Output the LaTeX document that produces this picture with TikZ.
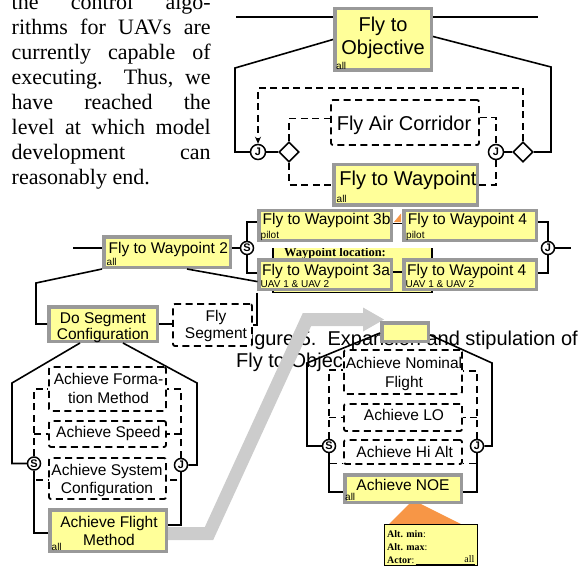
\documentclass[tikz,border=0pt]{standalone}
\usepackage{fontspec}
\setmainfont{Liberation Serif}
\setsansfont{Liberation Sans}
\usetikzlibrary{calc,arrows.meta,shapes.geometric}
\definecolor{yel}{HTML}{FFFF99}
\definecolor{bgray}{HTML}{999999}
\definecolor{agray}{HTML}{CCCCCC}
\definecolor{orng}{HTML}{F79646}
\newcommand\myfs[1]{\fontsize{#1}{#1}\selectfont}
\begin{document}
\begin{tikzpicture}[x=1pt,y=-1pt,
  ybox/.style={draw=bgray, fill=yel, line width=3.5pt, inner sep=0pt, rectangle},
  dbox/.style={draw=black, fill=white, line width=1.8pt, dash pattern=on 7pt off 4.5pt, rounded corners=2pt, inner sep=0pt, rectangle},
  conn/.style={draw=black, line width=1.6pt},
  dconn/.style={draw=black, line width=1.8pt, dash pattern=on 7pt off 4.5pt},
  circ/.style={circle, draw=black, fill=white, line width=1.5pt, inner sep=0pt, minimum size=13pt, font=\sffamily\bfseries\myfs{11}},
  dia/.style={diamond, draw=black, fill=white, line width=1.6pt, inner sep=0pt, minimum size=20pt},
  t20/.style={font=\sffamily\myfs{20}, inner sep=0pt, anchor=base},
  t15/.style={font=\sffamily\myfs{15.5}, inner sep=0pt, anchor=base},
  lbl/.style={font=\sffamily\myfs{10}, inner sep=0pt, anchor=base west},
  ptxt/.style={font=\myfs{22}, inner sep=0pt, anchor=base west}]
\useasboundingbox (0,0) rectangle (580,569);
\clip (0,0) rectangle (580,569);

% ---- left column text
\node[ptxt] (p1) at (11.5,9.3) {\makebox[199pt][s]{the control algo-}};
\node[ptxt] (p2) at (11.5,34.3) {\makebox[199pt][s]{rithms for UAVs are}};
\node[ptxt] (p3) at (11.5,59.5) {\makebox[199pt][s]{currently capable of}};
\node[ptxt] (p4) at (11.5,84.6) {\makebox[199pt][s]{executing.\ \ Thus, we}};
\node[ptxt] (p5) at (11.5,109.7) {\makebox[199pt][s]{have reached the}};
\node[ptxt] (p6) at (11.5,134.8) {\makebox[199pt][s]{level at which model}};
\node[ptxt] (p7) at (11.5,160) {\makebox[199pt][s]{development can}};
\node[ptxt] (p8) at (11.5,185) {reasonably end.};

% ---- caption (underneath)
\node[font=\sffamily\myfs{20}, inner sep=0pt, anchor=base east] (cap1) at (578,345) {Figure 5.\ \ Expansion and stipulation of};
\node[font=\sffamily\myfs{20}, inner sep=0pt, anchor=base west] (cap2) at (236,367.5) {Fly to Objective};

% ---- top diagram
\coordinate (tL) at (236,17);
\coordinate (tR) at (538,17);
\node[ybox, minimum width=96.5pt, minimum height=61.5pt] (fto) at (383,39.5) {};
\node[t20] (ftoA) at (383,32) {Fly to};
\node[t20] (ftoB) at (383,55) {Objective};
\node[lbl] (l1) at (336,69.5) {all};
\node[dbox, minimum width=148pt, minimum height=45pt] (fac) at (405,122.5) {};
\node[t20] (facT) at (404,131) {Fly Air Corridor};
\node[ybox, minimum width=143.5pt, minimum height=40.5pt] (ftw) at (405.5,185) {};
\node[t20] (ftwT) at (408,186) {Fly to Waypoint};
\node[lbl] (l2) at (336.5,203) {all};
\node[circ, minimum size=15pt] (jl) at (258,152) {J};
\node[dia] (dl) at (289,152) {};
\node[circ, minimum size=15pt] (jr) at (496,152) {J};
\node[dia] (dr) at (523,152) {};
\draw[conn] (tL) -- (tL -| fto.west);
\draw[conn] (fto.east |- tR) -- (tR);
\draw[conn] (fto.west) -- (235,68) |- (jl.west);
\draw[conn] ($(fto.east)+(0,-3)$) -- (551,67) |- (dr.east);
\draw[conn] (jl) -- (dl);
\draw[conn] (jr) -- (dr);
\draw[dconn, -{Stealth[length=7pt,width=6pt]}] (dr.north) -- (523,88) -- (258,88) -- (jl.north);
\draw[dconn] (dl.north) |- ($(fac.west)+(0,-4)$);
\draw[dconn] ($(fac.east)+(0,-5)$) -| (jr.north);
\draw[dconn] (dl.south) |- (ftw.west);
\draw[dconn] (ftw.east) -| (jr.south);

% ---- hidden annotation pieces
\fill[orng] (394,222) -- (401,213.5) -- (401,222) -- cycle;
\draw[line width=1.5pt] (393,223.5) -- (402,223.5);
\begin{scope}
\clip (270,248) rectangle (436,296);
\node[draw=black, line width=1.3pt, fill=yel, minimum width=159pt, minimum height=52pt, inner sep=0pt] (ann2) at (352.5,266.5) {};
\node[font=\bfseries\myfs{12.5}, inner sep=0pt, anchor=base] (ann2t) at (335,256.5) {Waypoint location:};
\draw[line width=1.2pt] (360,272) -- (432,272);
\end{scope}

% ---- level 3 boxes
\node[ybox, minimum width=132.5pt, minimum height=29.5pt] (b3b) at (325,225.5) {};
\node[t15] (b3bT) at (326.5,225) {Fly to Waypoint 3b};
\node[lbl] (l3) at (260.5,238.5) {pilot};
\node[ybox, minimum width=132.5pt, minimum height=29.5pt] (b4p) at (470,225.5) {};
\node[t15] (b4pT) at (467.5,225) {Fly to Waypoint 4};
\node[lbl] (l4) at (406,238.5) {pilot};
\node[ybox, minimum width=132.5pt, minimum height=29.5pt] (b3a) at (325,274.5) {};
\node[t15] (b3aT) at (326,275) {Fly to Waypoint 3a};
\node[lbl] (l5) at (260.5,287.5) {UAV 1 \& UAV 2};
\node[ybox, minimum width=132.5pt, minimum height=29.5pt] (b4u) at (470,274.5) {};
\node[t15] (b4uT) at (466.7,275) {Fly to Waypoint 4};
\node[lbl] (l6) at (405.5,287.5) {UAV 1 \& UAV 2};

% ---- Fly to Waypoint 2 level
\coordinate (lstart) at (73,248);
\coordinate (jend) at (571,248);
\node[ybox, minimum width=126.5pt, minimum height=30.5pt] (ftw2) at (167,252) {};
\node[t15] (ftw2T) at (168.3,253) {Fly to Waypoint 2};
\node[lbl] (l7) at (106.5,265) {all};
\node[circ] (s1) at (247,248) {S};
\node[circ] (j1) at (548,248) {J};
\draw[conn] (lstart) -- (ftw2.west |- lstart);
\draw[conn] (ftw2.east |- s1) -- (s1);
\draw[conn] (s1.north) |- ($(b3b.west)+(0,-3.5)$);
\draw[conn] (s1.south) |- ($(b3a.west)+(0,-1.5)$);
\draw[conn] ($(b4p.east)+(0,-3.5)$) -| (j1.north);
\draw[conn] ($(b4u.east)+(0,-1.5)$) -| (j1.south);
\draw[conn] (j1.east) -- (jend);

\node[ybox, minimum width=108.5pt, minimum height=34.5pt] (dsc) at (103,324) {};
\node[t15] (dscA) at (103,323) {Do Segment};
\node[t15] (dscB) at (103,339.5) {Configuration};
\node[dbox, minimum width=79pt, minimum height=42pt] (flyseg) at (212.5,325) {};
\node[t15] (flysegA) at (216,321) {Fly};
\node[t15] (flysegB) at (216,338.5) {Segment};
\draw[conn] (ftw2.south west) -- (36,283) |- (dsc.west);
\draw[conn] ($(ftw2.south)+(20,0)$) -- (257.5,281.6);
\draw[conn] ($(b3a.south west)+(0,1.75)$) |- (flyseg.east);
\draw[conn] (dsc.east) -- (flyseg.west |- dsc.east);

% ---- lower-left expansion
\node[dbox, minimum width=117pt, minimum height=44pt] (forma) at (107.5,389) {};
\node[t15] (formaA) at (108.5,384.5) {Achieve Forma-};
\node[t15] (formaB) at (108.5,403.5) {tion Method};
\node[dbox, minimum width=117pt, minimum height=26pt] (speed) at (107.5,434) {};
\node[t15] (speedT) at (108.3,437) {Achieve Speed};
\node[dbox, minimum width=117pt, minimum height=41pt] (sys) at (107.5,478.5) {};
\node[t15] (sysA) at (107,475) {Achieve System};
\node[t15] (sysB) at (107,493) {Configuration};
% gray arrow
\draw[agray, line width=13pt, line join=miter] (168,533.5) -- (209,533.5) -- (307,319.5) -- (363,319.5);
\fill[agray] (363,307.5) -- (384,319.5) -- (363,331.5) -- cycle;
\node[ybox, minimum width=116.5pt, minimum height=41.5pt] (afm) at (108,530.5) {};
\node[t15] (afmA) at (109,527) {Achieve Flight};
\node[t15] (afmB) at (109,545.5) {Method};
\node[lbl] (l8) at (51.5,550.5) {all};
\node[circ] (s2) at (34,463.5) {S};
\node[circ] (j2) at (181,465) {J};
\draw[conn] ($(dsc.south)+(-23,0)$) -- (12,383) |- (s2.west);
\draw[conn] ($(dsc.south)+(20,0)$) -- (197,383) |- (j2.east);
\draw[dconn] (s2.north) |- (forma.west);
\draw[dconn] (s2 |- speed.west) -- (speed.west);
\draw[dconn] (s2.south) |- ($(sys.west)+(0,1.5)$);
\draw[dconn] (j2.north) |- (forma.east);
\draw[dconn] (j2 |- speed.east) -- (speed.east);
\draw[dconn] (j2.south) |- ($(sys.east)+(0,1.5)$);
\draw[conn] (s2.south) |- ($(afm.west)+(0,2.5)$);
\draw[conn] (j2.south) |- ($(afm.east)+(0,-5.5)$);

% ---- lower-right expansion
\node[ybox, minimum width=46.5pt, minimum height=18.5pt] (smb) at (405,332) {};
\node[dbox, minimum width=118pt, minimum height=44pt] (nom) at (403,372) {};
\node[t15] (nomA) at (404,368) {Achieve Nominal};
\node[t15] (nomB) at (404,387) {Flight};
\node[dbox, minimum width=118pt, minimum height=27pt] (lo) at (403,417.5) {};
\node[t15] (loT) at (404,420.5) {Achieve LO};
\node[dbox, minimum width=118pt, minimum height=24pt] (hi) at (403,452) {};
\node[t15] (hiT) at (404.7,457) {Achieve Hi Alt};
\fill[orng] (413,500) -- (388,525) -- (463,525) -- cycle;
\node[ybox, minimum width=116.5pt, minimum height=27.5pt] (noe) at (403,488.5) {};
\node[t15] (noeT) at (403,490.5) {Achieve NOE};
\node[lbl] (l9) at (345,500.5) {all};
\node[circ] (s3) at (329,446) {S};
\node[circ] (j3) at (477,446) {J};
\draw[conn] ($(smb.west)+(0,1)$) -- (307,363) |- (s3.west);
\draw[conn] ($(smb.east)+(0,3)$) -- (492,363) |- (j3.east);
\draw[dconn] (s3.north) |- ($(nom.west)+(0,-2)$);
\draw[dconn] (s3 |- lo.west) -- (lo.west);
\draw[dconn] (s3.south) |- ($(hi.south west)+(0,-1.5)$);
\draw[dconn] (j3.north) |- ($(nom.east)+(0,-1)$);
\draw[dconn] (j3 |- lo.east) -- (lo.east);
\draw[dconn] (j3.south) |- ($(hi.south east)+(0,-1.5)$);
\draw[conn] (s3.south) |- ($(noe.west)+(0,3.5)$);
\draw[conn] (j3.south) |- ($(noe.east)+(0,3.5)$);

% ---- annotation box
\node[draw=black, line width=1.3pt, fill=yel, minimum width=92.7pt, minimum height=40.7pt, inner sep=0pt] (ann) at (431,545) {};
\node[font=\myfs{10}, inner sep=0pt, anchor=base west] (a1) at (387,537) {\textbf{Alt. min}:};
\node[font=\myfs{10}, inner sep=0pt, anchor=base west] (a2) at (387,550) {\textbf{Alt. max}:};
\node[font=\myfs{10}, inner sep=0pt, anchor=base west] (a3) at (387,563) {\textbf{Actor}:};
\node[font=\myfs{10}, inner sep=0pt, anchor=base east] (a4) at (474.5,562.5) {all};
\draw[line width=0.8pt] ($(a3.base east)+(1,1)$) -- ($(a4.base east)+(0,1.5)$);
\end{tikzpicture}
\end{document}
